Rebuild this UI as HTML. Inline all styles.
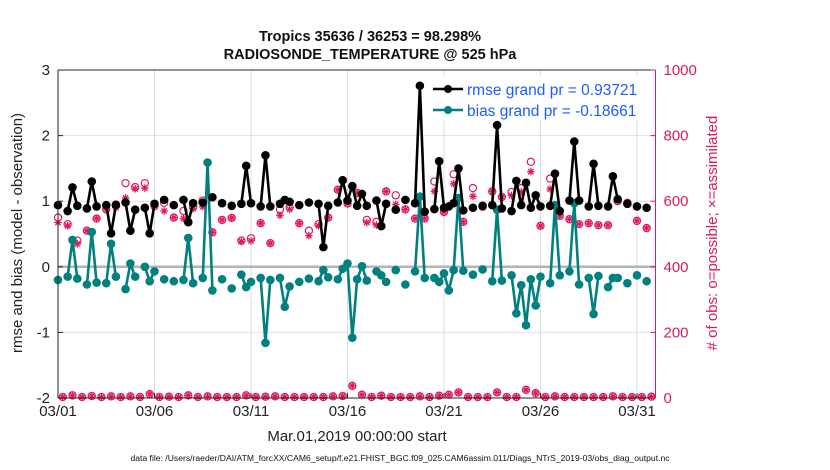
<!DOCTYPE html>
<html><head><meta charset="utf-8">
<style>
html,body{margin:0;padding:0;background:#fff;}
svg{display:block;font-family:"Liberation Sans",Arial,sans-serif;}
</style></head>
<body>
<svg id="chart" width="830" height="470" viewBox="0 0 830 470" xmlns="http://www.w3.org/2000/svg">
<rect x="0" y="0" width="830" height="470" fill="#fff"/>
<text x="370" y="41" text-anchor="middle" font-size="14.5" font-weight="bold" fill="#111">Tropics 35636 / 36253 = 98.298%</text>
<text x="370" y="59" text-anchor="middle" font-size="14.5" font-weight="bold" fill="#111">RADIOSONDE_TEMPERATURE @ 525 hPa</text>
<g id="grid"></g>
<g id="marks"></g>
<g id="axes"></g>
<text transform="translate(22,233) rotate(-90)" text-anchor="middle" font-size="15" fill="#222">rmse and bias (model - observation)</text>
<text transform="translate(717,233) rotate(-90)" text-anchor="middle" font-size="15" fill="#d81b60">&#35; of obs: o=possible; ×=assimilated</text>
<text x="357" y="441" text-anchor="middle" font-size="15" fill="#222">Mar.01,2019 00:00:00 start</text>
<text x="400" y="461" text-anchor="middle" font-size="8.6" fill="#111">data file: /Users/raeder/DAI/ATM_forcXX/CAM6_setup/f.e21.FHIST_BGC.f09_025.CAM6assim.011/Diags_NTrS_2019-03/obs_diag_output.nc</text>
<g id="legend">
  <rect x="428" y="76" width="216" height="44" fill="#fff"/>
  <line x1="433" y1="89" x2="463" y2="89" stroke="#000" stroke-width="2.5"/>
  <circle cx="448" cy="89" r="4" fill="#000"/>
  <text x="467" y="95" font-size="15.5" fill="#1a5cff">rmse grand pr = 0.93721</text>
  <line x1="433" y1="110" x2="463" y2="110" stroke="#008080" stroke-width="2.5"/>
  <circle cx="448" cy="110" r="4" fill="#008080"/>
  <text x="467" y="116" font-size="15.5" fill="#1a5cff">bias grand pr = -0.18661</text>
</g>
</svg>
<script>
// times in 6-hour steps from 2019-03-01 00:00
const rmseT = [0,2,3,4,6,7,8,10,11,12,14,15,16,18,19,20,22,24,26,27,28,30,32,34,36,38,39,40,42,43,44,46,47,48,50,52,54,55,56,58,59,60,61,62,63,64,66,67,68,70,72,74,75,76,78,79,80,81,82,83,84,86,88,90,91,92,94,95,96,97,98,99,100,102,103,104,106,107,108,110,111,112,114,115,116,118,120,122];
const rmseV = [0.94,0.85,1.21,0.93,0.89,1.30,0.92,0.94,0.51,0.94,0.98,0.55,0.87,0.90,0.51,0.96,1.02,0.94,1.02,0.68,0.97,0.98,1.06,0.97,0.93,0.96,1.54,0.97,0.92,1.70,0.92,0.96,1.02,0.99,0.94,0.98,0.96,0.30,0.93,0.98,1.32,1.01,1.23,0.93,1.11,0.93,1.01,0.62,0.96,0.87,1.02,0.97,2.76,0.84,0.88,1.61,0.90,0.92,0.97,1.50,0.86,0.90,0.93,0.94,2.16,0.89,0.85,1.31,0.94,1.28,0.90,1.09,0.92,0.93,1.42,0.85,1.01,1.91,1.01,0.92,1.57,0.93,0.92,1.38,1.03,0.96,0.92,0.90];
const biasT = [0,2,3,4,6,7,8,10,11,12,14,15,16,18,19,20,22,24,26,27,28,30,31,32,34,36,38,39,40,42,43,44,46,47,48,50,52,54,55,56,58,59,60,61,62,63,64,66,67,68,70,72,74,75,76,78,79,80,81,82,83,84,86,88,90,91,92,94,95,96,97,98,99,100,102,103,104,106,107,108,110,111,112,114,115,116,118,120,122];
const biasV = [-0.20,-0.15,0.41,-0.18,-0.27,0.53,-0.24,-0.25,0.35,-0.15,-0.34,0.05,-0.15,0.00,-0.22,-0.07,-0.19,-0.22,-0.20,0.44,-0.25,-0.17,1.59,-0.36,-0.19,-0.33,-0.12,-0.31,-0.23,-0.17,-1.16,-0.20,-0.17,-0.61,-0.30,-0.23,-0.18,-0.22,-0.05,-0.16,-0.19,-0.03,0.05,-1.08,-0.19,0.01,-0.21,-0.07,-0.13,-0.23,-0.05,-0.27,-0.07,1.07,-0.17,-0.17,-0.23,-0.10,-0.36,-0.05,1.05,-0.06,-0.12,-0.04,-0.22,0.87,-0.21,-0.13,-0.71,-0.28,-0.89,-0.19,-0.59,-0.15,-0.25,0.94,-0.13,-0.07,0.97,-0.27,-0.17,-0.72,-0.14,-0.31,-0.17,-0.17,-0.25,-0.13,-0.22];
// observation counts at main (00/12Z) times
const obsT = [0,2,4,6,8,10,12,14,16,18,20,22,24,26,28,30,32,34,36,38,40,42,44,46,48,50,52,54,56,58,60,62,64,66,68,70,72,74,76,78,80,82,84,86,88,90,92,94,96,98,100,102,104,106,108,110,112,114,116,118,120,122];
const obsPossible = [550,530,480,510,547,575,590,655,643,655,585,595,550,570,583,602,505,543,549,480,487,533,472,575,582,533,510,530,550,635,593,625,543,537,630,618,575,547,547,660,567,682,537,640,583,630,613,628,640,720,525,669,555,545,530,533,527,527,600,595,540,518];
const obsAssim = [535,525,470,510,547,575,580,610,638,640,585,570,550,547,577,583,505,543,549,477,479,533,472,557,575,533,495,525,550,635,593,625,535,527,630,590,575,547,547,630,567,653,537,615,583,630,613,617,628,690,525,637,555,545,530,533,527,527,600,595,540,518];
// observation counts at off (06/18Z) times
const smallT = [1,3,5,7,9,11,13,15,17,19,21,23,25,27,29,31,33,35,37,39,41,43,45,47,49,51,53,55,57,59,61,63,65,67,69,71,73,75,77,79,81,83,85,87,89,91,93,95,97,99,101,103,105,107,109,111,113,115,117,119,121,123];
const smallV = [3,8,3,6,3,5,3,5,3,12,3,4,3,8,3,5,3,3,3,8,3,4,5,3,3,3,3,3,5,6,37,10,3,7,3,3,3,5,3,7,10,17,3,3,3,17,3,3,25,15,3,5,3,3,3,3,3,5,3,3,3,4];
const leftTicks = [3,2,1,0,-1,-2];
const rightTicks = [1000,800,600,400,200,0];
const xTickDays = [0,5,10,15,20,25,30];
const xTickLabels = ["03/01","03/06","03/11","03/16","03/21","03/26","03/31"];

const X0=58, X1=655.5, Y0=70, Y1=398;
const DAY=19.3;
function xs(t){ return X0 + t*DAY/4; }
function xd(d){ return X0 + d*DAY; }
function yl(v){ return Y1 - (v+2)*(Y1-Y0)/5; }
function yr(c){ return Y1 - c*(Y1-Y0)/1000; }
const NS="http://www.w3.org/2000/svg";
function mk(tag, attrs, parent){
  const e=document.createElementNS(NS,tag);
  for(const k in attrs) e.setAttribute(k, attrs[k]);
  parent.appendChild(e); return e;
}
const grid=document.getElementById('grid');
const marks=document.getElementById('marks');
const axes=document.getElementById('axes');

leftTicks.forEach(v=>{
  if(v===3||v===-2||v===0) return;
  const l=mk('line',{x1:X0,x2:X1,y1:yl(v),y2:yl(v),stroke:'#f0d8e2','stroke-width':1},grid);
  
  
});
xTickDays.forEach(d=>{
  if(d===0) return;
  const l=mk('line',{x1:xd(d),x2:xd(d),y1:Y0,y2:Y1,stroke:'#dcdcdc','stroke-width':1},grid);
  
  
});
const zl=mk('line',{x1:X0,x2:X1,y1:yl(0),y2:yl(0),stroke:'#b4b4b4','stroke-width':2.5},grid);



function drawCircle(x,y){
  const c=mk('circle',{cx:x,cy:y,r:3.6,fill:'none',stroke:'#e0195f','stroke-width':1.2},marks);
  
  
}
function drawStar(x,y){
  const g=mk('g',{stroke:'#e0195f','stroke-width':1.3},marks);
  
  
  const r=3.8;
  for(let a=0;a<4;a++){
    const th=a*Math.PI/4;
    mk('line',{x1:x-r*Math.cos(th),y1:y-r*Math.sin(th),x2:x+r*Math.cos(th),y2:y+r*Math.sin(th)},g);
  }
}
obsT.forEach((t,i)=>{ drawCircle(xs(t),yr(obsPossible[i])); drawStar(xs(t),yr(obsAssim[i])); });
smallT.forEach((t,i)=>{ drawCircle(xs(t),yr(smallV[i])); drawStar(xs(t),yr(smallV[i])); });

function drawSeries(T,V,color,name){
  let seg=[];
  const segs=[];
  T.forEach((t,i)=>{
    if(i>0 && t-T[i-1]!==1){ segs.push(seg); seg=[]; }
    seg.push([xs(t),yl(V[i])]);
  });
  segs.push(seg);
  segs.forEach(s=>{
    if(s.length<2) return;
    const p=mk('polyline',{points:s.map(q=>q.join(',')).join(' '),fill:'none',stroke:color,'stroke-width':2.6,'stroke-linejoin':'round'},marks);
    
    
  });
  T.forEach((t,i)=>{
    const c=mk('circle',{cx:xs(t),cy:yl(V[i]),r:4.3,fill:color},marks);
    
    
  });
}
drawSeries(biasT,biasV,'#008080','bias');
drawSeries(rmseT,rmseV,'#000000','rmse');

const lax=mk('line',{x1:X0,x2:X0,y1:Y0,y2:Y1,stroke:'#262626','stroke-width':1},axes);


const tax=mk('line',{x1:X0,x2:X1,y1:Y0,y2:Y0,stroke:'#262626','stroke-width':1},axes);


const bax=mk('line',{x1:X0,x2:X1,y1:Y1,y2:Y1,stroke:'#262626','stroke-width':1},axes);


const rax=mk('line',{x1:X1,x2:X1,y1:Y0,y2:Y1,stroke:'#d81b60','stroke-width':1},axes);



leftTicks.forEach(v=>{
  mk('line',{x1:X0,x2:X0+5,y1:yl(v),y2:yl(v),stroke:'#262626'},axes);
  const t=mk('text',{x:X0-8,y:yl(v)+5,'text-anchor':'end','font-size':15,fill:'#222'},axes);
  t.textContent=String(v);
  
  
});
rightTicks.forEach(v=>{
  mk('line',{x1:X1-5,x2:X1,y1:yr(v),y2:yr(v),stroke:'#d81b60'},axes);
  const t=mk('text',{x:X1+8,y:yr(v)+5,'font-size':15,fill:'#d81b60'},axes);
  t.textContent=String(v);
  
  
});
xTickDays.forEach((d,i)=>{
  mk('line',{x1:xd(d),x2:xd(d),y1:Y1,y2:Y1-5,stroke:'#262626'},axes);
  const t=mk('text',{x:xd(d),y:Y1+18,'text-anchor':'middle','font-size':15,fill:'#222'},axes);
  t.textContent=xTickLabels[i];
  
  
});
</script>
</body></html>
